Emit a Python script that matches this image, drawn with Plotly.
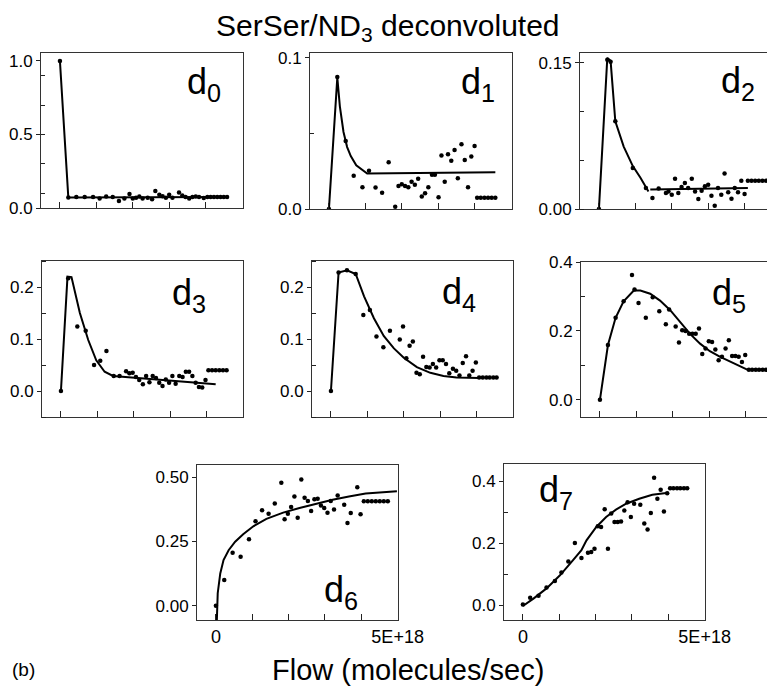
import plotly.graph_objects as go

W, H = 775, 688          # browser window
OFF = 8                  # default page margin around the plot div
FW, FH = W - OFF, H - OFF
E18 = 1e18

# ---------------- data (flow in units of 1e18 molecules/sec) ----------------
d0_x = [0, 0.23, 0.45, 0.68, 0.91, 1.09, 1.27, 1.45, 1.62, 1.77, 1.91, 2.0, 2.09, 2.18, 2.27,
        2.41, 2.53, 2.62, 2.73, 2.82, 2.91, 3.0, 3.09, 3.27, 3.36, 3.45, 3.55, 3.64, 3.73, 3.82,
        3.95, 4.05, 4.14, 4.23, 4.32, 4.41, 4.5, 4.59]
d0_y = [1.0, 0.072, 0.075, 0.075, 0.075, 0.065, 0.078, 0.075, 0.048, 0.065, 0.095, 0.065, 0.07,
        0.078, 0.065, 0.07, 0.06, 0.115, 0.09, 0.08, 0.07, 0.09, 0.07, 0.105, 0.085, 0.075, 0.065,
        0.075, 0.078, 0.075, 0.068, 0.075, 0.075, 0.075, 0.075, 0.075, 0.075, 0.075]
d0_fit_x = [0, 0.23, 4.59]
d0_fit_y = [1.0, 0.072, 0.075]

d1_x = [0, 0.23, 0.46, 0.68, 0.92, 1.1, 1.28, 1.46, 1.64, 1.82, 1.91, 2.0, 2.09, 2.18, 2.27,
        2.36, 2.45, 2.55, 2.64, 2.73, 2.83, 2.91, 3.01, 3.09, 3.18, 3.27, 3.36, 3.45, 3.54, 3.64,
        3.73, 3.82, 3.91, 4.0, 4.07, 4.17, 4.27, 4.37, 4.47, 4.57]
d1_y = [0.0, 0.0874, 0.045, 0.022, 0.0144, 0.0254, 0.0142, 0.0108, 0.031, 0.0015, 0.0153, 0.0164,
        0.0153, 0.0144, 0.0181, 0.016, 0.02, 0.0082, 0.0104, 0.0144, 0.0226, 0.0226, 0.0077,
        0.0354, 0.0181, 0.0363, 0.0319, 0.039, 0.0204, 0.0429, 0.0325, 0.0144, 0.0347, 0.0418,
        0.0075, 0.0075, 0.0075, 0.0075, 0.0075, 0.0075]
d1_fit_x = [0, 0.23, 0.3, 0.4, 0.5, 0.6, 0.75, 0.9, 1.05, 4.57]
d1_fit_y = [0, 0.087, 0.068, 0.051, 0.041, 0.035, 0.029, 0.026, 0.0235, 0.0243]

d2_x = [0, 0.23, 0.32, 0.45, 0.93, 1.29, 1.47, 1.64, 1.84, 1.91, 2.0, 2.09, 2.18, 2.27, 2.36,
        2.45, 2.55, 2.64, 2.73, 2.82, 2.91, 3.0, 3.09, 3.18, 3.27, 3.36, 3.45, 3.55, 3.64, 3.73,
        3.82, 3.91, 4.0, 4.09, 4.19, 4.29, 4.39, 4.49, 4.59]
d2_y = [0, 0.153, 0.151, 0.090, 0.042, 0.0216, 0.0113, 0.021, 0.0164, 0.018, 0.0147, 0.031,
        0.0164, 0.0226, 0.0267, 0.0216, 0.031, 0.018, 0.0103, 0.0188, 0.0233, 0.025, 0.0137,
        0.0034, 0.0216, 0.0147, 0.0363, 0.0171, 0.0106, 0.0216, 0.0171, 0.029, 0.0154,
        0.029, 0.029, 0.029, 0.029, 0.029, 0.029]
d2_fit_x = [0, 0.23, 0.32, 0.45, 0.68, 0.93, 1.14, 1.36, None, 1.41, 4.09]
d2_fit_y = [0, 0.155, 0.152, 0.09, 0.064, 0.044, 0.032, 0.018, None, 0.0199, 0.0216]

d3_x = [0, 0.2, 0.45, 0.68, 0.91, 1.08, 1.25, 1.45, 1.61, 1.79, 1.88, 1.97, 2.06, 2.15, 2.25,
        2.34, 2.43, 2.52, 2.61, 2.7, 2.79, 2.88, 2.97, 3.06, 3.15, 3.25, 3.34, 3.43, 3.52, 3.61,
        3.7, 3.79, 3.88, 3.97, 4.05, 4.15, 4.25, 4.35, 4.45, 4.55]
d3_y = [0, 0.217, 0.124, 0.116, 0.05, 0.058, 0.077, 0.029, 0.029, 0.038, 0.034, 0.035, 0.027,
        0.021, 0.013, 0.029, 0.017, 0.029, 0.025, 0.016, 0.0097, 0.022, 0.016, 0.029, 0.014,
        0.029, 0.027, 0.037, 0.037, 0.029, 0.016, 0.0077, 0.0065, 0.021,
        0.04, 0.04, 0.04, 0.04, 0.04, 0.04]
d3_fit_x = [0, 0.18, 0.29, 0.52, 0.75, 0.97, 1.2, 1.43, 4.25]
d3_fit_y = [0, 0.22, 0.219, 0.15, 0.098, 0.059, 0.037, 0.029, 0.013]

d4_x = [0, 0.21, 0.44, 0.68, 0.89, 1.07, 1.25, 1.44, 1.62, 1.89, 1.98, 2.07, 2.16, 2.25, 2.35,
        2.44, 2.53, 2.62, 2.71, 2.8, 2.89, 2.98, 3.07, 3.16, 3.25, 3.35, 3.44, 3.53, 3.62, 3.71,
        3.8, 3.89, 3.98, 4.07, 4.17, 4.27, 4.36, 4.46, 4.55]
d4_y = [0, 0.228, 0.232, 0.225, 0.146, 0.156, 0.105, 0.084, 0.116, 0.099, 0.124, 0.063, 0.087,
        0.095, 0.035, 0.032, 0.066, 0.046, 0.045, 0.052, 0.045, 0.059, 0.059, 0.052, 0.034,
        0.043, 0.039, 0.03, 0.054, 0.067, 0.03, 0.039, 0.055,
        0.026, 0.026, 0.026, 0.026, 0.026, 0.026]
d4_fit_x = [0, 0.21, 0.44, 0.68, 0.91, 1.18, 1.45, 1.73, 2.0, 2.36, 2.73, 3.09, 3.45, 4.0, 4.07]
d4_fit_y = [0, 0.228, 0.232, 0.225, 0.182, 0.14, 0.106, 0.082, 0.064, 0.046, 0.035, 0.029,
            0.026, 0.024, 0.025]

d5_x = [0, 0.22, 0.43, 0.65, 0.88, 0.95, 1.06, 1.26, 1.45, 1.63, 1.81, 1.9, 2.08, 2.17, 2.26,
        2.35, 2.45, 2.54, 2.63, 2.72, 2.81, 2.9, 2.99, 3.08, 3.17, 3.26, 3.35, 3.45, 3.54, 3.63,
        3.72, 3.81, 3.9, 3.99, 4.09, 4.18, 4.28, 4.37, 4.47, 4.56]
d5_y = [0, 0.159, 0.238, 0.286, 0.362, 0.32, 0.281, 0.238, 0.298, 0.257, 0.219, 0.262, 0.213,
        0.166, 0.202, 0.2, 0.192, 0.192, 0.192, 0.207, 0.133, 0.149, 0.17, 0.168, 0.146, 0.115,
        0.125, 0.149, 0.173, 0.127, 0.127, 0.125, 0.11, 0.13,
        0.087, 0.087, 0.087, 0.087, 0.087, 0.087]
d5_fit_x = [0, 0.22, 0.43, 0.65, 0.93, 1.11, 1.38, 1.65, 1.93, 2.2, 2.47, 2.75, 3.02, 3.29,
            3.65, 4.06]
d5_fit_y = [0, 0.159, 0.238, 0.286, 0.317, 0.317, 0.308, 0.288, 0.26, 0.226, 0.192, 0.163,
            0.141, 0.125, 0.108, 0.087]

d6_x = [0, 0.23, 0.46, 0.68, 0.91, 1.09, 1.27, 1.45, 1.62, 1.8, 1.89, 1.98, 2.07, 2.16, 2.25,
        2.35, 2.44, 2.53, 2.62, 2.71, 2.8, 2.89, 2.98, 3.07, 3.16, 3.25, 3.35, 3.53, 3.62, 3.71,
        3.89, 3.98, 4.07, 4.18, 4.29, 4.4, 4.51, 4.62, 4.73]
d6_y = [0, 0.1, 0.206, 0.191, 0.259, 0.329, 0.371, 0.358, 0.397, 0.478, 0.336, 0.358, 0.384,
        0.425, 0.342, 0.491, 0.42, 0.407, 0.368, 0.414, 0.416, 0.39, 0.38, 0.362, 0.407, 0.374,
        0.429, 0.393, 0.322, 0.361, 0.461, 0.356,
        0.406, 0.406, 0.406, 0.406, 0.406, 0.406, 0.406]
d6_fit_x = [0.025, 0.05, 0.12, 0.21, 0.35, 0.53, 0.75, 1.03, 1.39, 1.85, 2.3, 2.75, 3.21, 3.66,
            4.12, 4.98]
d6_fit_y = [-0.06, 0.049, 0.126, 0.178, 0.216, 0.249, 0.278, 0.309, 0.338, 0.362, 0.38, 0.397,
            0.412, 0.425, 0.436, 0.445]

d7_x = [0, 0.2, 0.43, 0.65, 0.88, 1.06, 1.25, 1.43, 1.61, 1.79, 1.88, 1.97, 2.06, 2.15, 2.25,
        2.34, 2.43, 2.52, 2.61, 2.7, 2.79, 2.88, 2.97, 3.06, 3.23, 3.34, 3.43, 3.52, 3.61, 3.7,
        3.79, 3.88, 3.97, 4.05, 4.14, 4.24, 4.33, 4.43, 4.52]
d7_y = [0.002, 0.024, 0.03, 0.057, 0.078, 0.105, 0.141, 0.2, 0.152, 0.169, 0.171, 0.182, 0.254,
        0.252, 0.309, 0.182, 0.295, 0.268, 0.268, 0.27, 0.305, 0.332, 0.284, 0.327, 0.324,
        0.263, 0.244, 0.297, 0.411, 0.343, 0.372, 0.302, 0.361,
        0.377, 0.377, 0.377, 0.377, 0.377, 0.377]
d7_fit_x = [0, 0.29, 0.65, 1.02, 1.38, 1.61, 1.75, 2.02, 2.29, 2.56, 2.84, 3.2, 3.56, 4.0]
d7_fit_y = [-0.003, 0.021, 0.054, 0.096, 0.145, 0.177, 0.209, 0.252, 0.284, 0.308, 0.327,
            0.343, 0.356, 0.362]

x_label_vals = [0, 5]
x_label_text = ["0", "5E+18"]

# ---------------- layout of the panels (screen pixel boxes) ----------------
FONT = "Liberation Sans, Arial, Helvetica, sans-serif"
PX_PER_UNIT = 201 / 5.52
X_LEFT = -0.52


def px(x):
    return (x - OFF) / FW


def py(y):
    return 1 - (y - OFF) / FH


panels = [
    dict(sub="0", x=d0_x, y=d0_y, fx=d0_fit_x, fy=d0_fit_y, box=(41, 243, 53, 208),
         yr=(0, 1.054), yt=[0, 0.5, 1.0], ytt=["0.0", "0.5", "1.0"], minor=(0.1, 0.2),
         lab=(185, 84), xlabels=False),
    dict(sub="1", x=d1_x, y=d1_y, fx=d1_fit_x, fy=d1_fit_y, box=(310, 512, 53, 209),
         yr=(0, 0.1033), yt=[0, 0.1], ytt=["0.0", "0.1"], minor=(0.05, 0.1),
         lab=(459, 84), xlabels=False),
    dict(sub="2", x=d2_x, y=d2_y, fx=d2_fit_x, fy=d2_fit_y, box=(580, 775, 53, 209),
         yr=(0, 0.160), yt=[0, 0.15], ytt=["0.00", "0.15"], minor=(0.05, 0.05),
         lab=(719, 83), xlabels=False),
    dict(sub="3", x=d3_x, y=d3_y, fx=d3_fit_x, fy=d3_fit_y, box=(42, 243, 261, 417),
         yr=(-0.05, 0.25), yt=[0, 0.1, 0.2], ytt=["0.0", "0.1", "0.2"], minor=(0.05, 0.1),
         lab=(170, 295), xlabels=False),
    dict(sub="4", x=d4_x, y=d4_y, fx=d4_fit_x, fy=d4_fit_y, box=(312, 513, 261, 417),
         yr=(-0.05, 0.25), yt=[0, 0.1, 0.2], ytt=["0.0", "0.1", "0.2"], minor=(0.05, 0.1),
         lab=(440, 294), xlabels=False),
    dict(sub="5", x=d5_x, y=d5_y, fx=d5_fit_x, fy=d5_fit_y, box=(581, 775, 262, 417),
         yr=(-0.05, 0.4), yt=[0, 0.2, 0.4], ytt=["0.0", "0.2", "0.4"], minor=(0.1, 0.2),
         lab=(710, 295), xlabels=False),
    dict(sub="6", x=d6_x, y=d6_y, fx=d6_fit_x, fy=d6_fit_y, box=(197, 398, 465, 620),
         yr=(-0.055, 0.547), yt=[0, 0.25, 0.5], ytt=["0.00", "0.25", "0.50"], minor=None,
         lab=(322, 592), xlabels=True),
    dict(sub="7", x=d7_x, y=d7_y, fx=d7_fit_x, fy=d7_fit_y, box=(504, 705, 464, 620),
         yr=(-0.048, 0.455), yt=[0, 0.2, 0.4], ytt=["0.0", "0.2", "0.4"], minor=(0.1, 0.2),
         lab=(537, 492), xlabels=True),
]

fig = go.Figure()
layout = {}
annotations = []

for i, p in enumerate(panels, start=1):
    xa = "x" if i == 1 else f"x{i}"
    ya = "y" if i == 1 else f"y{i}"
    x0, x1, y0, y1 = p["box"]
    xr_end = X_LEFT + (x1 - x0) / PX_PER_UNIT
    if p["xlabels"]:
        xr_end = max(xr_end, 5.01)
    fig.add_trace(go.Scatter(
        x=[v * E18 if v is not None else None for v in p["fx"]], y=p["fy"],
        mode="lines", line=dict(color="black", width=2), xaxis=xa, yaxis=ya,
        showlegend=False, hoverinfo="skip", connectgaps=False))
    fig.add_trace(go.Scatter(
        x=[v * E18 for v in p["x"]], y=p["y"], mode="markers",
        marker=dict(color="black", size=4.5), xaxis=xa, yaxis=ya,
        showlegend=False, cliponaxis=True))
    xkey = "xaxis" if i == 1 else f"xaxis{i}"
    ykey = "yaxis" if i == 1 else f"yaxis{i}"
    xdict = dict(
        domain=[px(x0), min(px(x1), 1.0)], anchor=ya, automargin=False,
        range=[X_LEFT * E18, xr_end * E18],
        ticks="inside", ticklen=6, tickwidth=1, tickcolor="#222",
        minor=dict(ticks="inside", ticklen=6, tick0=0, dtick=E18, tickcolor="#222",
                   showgrid=False),
        showline=True, mirror=True, linecolor="#333", linewidth=1,
        showgrid=False, zeroline=False,
        tickfont=dict(family=FONT, size=18, color="black"))
    if p["xlabels"]:
        xdict.update(tickmode="array", tickvals=[v * E18 for v in x_label_vals],
                     ticktext=x_label_text, showticklabels=True)
    else:
        xdict.update(tickmode="linear", tick0=0, dtick=5 * E18, showticklabels=False)
    layout[xkey] = xdict
    ydict = dict(
        domain=[py(y1), py(y0)], anchor=xa, automargin=False,
        range=list(p["yr"]), tickmode="array", tickvals=p["yt"], ticktext=p["ytt"],
        ticks="outside", ticklen=4, tickwidth=1, tickcolor="#222",
        showline=True, mirror=True, linecolor="#333", linewidth=1,
        showgrid=False, zeroline=False,
        tickfont=dict(family=FONT, size=17, color="black"))
    if p["minor"]:
        ydict["minor"] = dict(ticks="inside", ticklen=4, tick0=p["minor"][0],
                              dtick=p["minor"][1], tickcolor="#222", showgrid=False)
    layout[ykey] = ydict
    lx, ly = p["lab"]
    annotations.append(dict(
        text=f"d<sub>{p['sub']}</sub>", x=px(lx), y=py(ly), xref="paper", yref="paper",
        xanchor="left", yanchor="middle", showarrow=False,
        font=dict(family=FONT, size=36, color="black")))

annotations.append(dict(
    text="SerSer/ND<sub>3</sub> deconvoluted", x=px(388), y=py(27),
    xref="paper", yref="paper", xanchor="center", yanchor="middle", showarrow=False,
    font=dict(family=FONT, size=30, color="black")))
annotations.append(dict(
    text="Flow (molecules/sec)", x=px(408), y=py(670),
    xref="paper", yref="paper", xanchor="center", yanchor="middle", showarrow=False,
    font=dict(family=FONT, size=29, color="black")))
annotations.append(dict(
    text="(b)", x=px(10), y=py(669),
    xref="paper", yref="paper", xanchor="left", yanchor="middle", showarrow=False,
    font=dict(family=FONT, size=19, color="black")))

fig.update_layout(
    width=FW, height=FH, margin=dict(l=0, r=0, t=0, b=0),
    paper_bgcolor="white", plot_bgcolor="white",
    annotations=annotations, **layout)

fig.write_html("out.html")
